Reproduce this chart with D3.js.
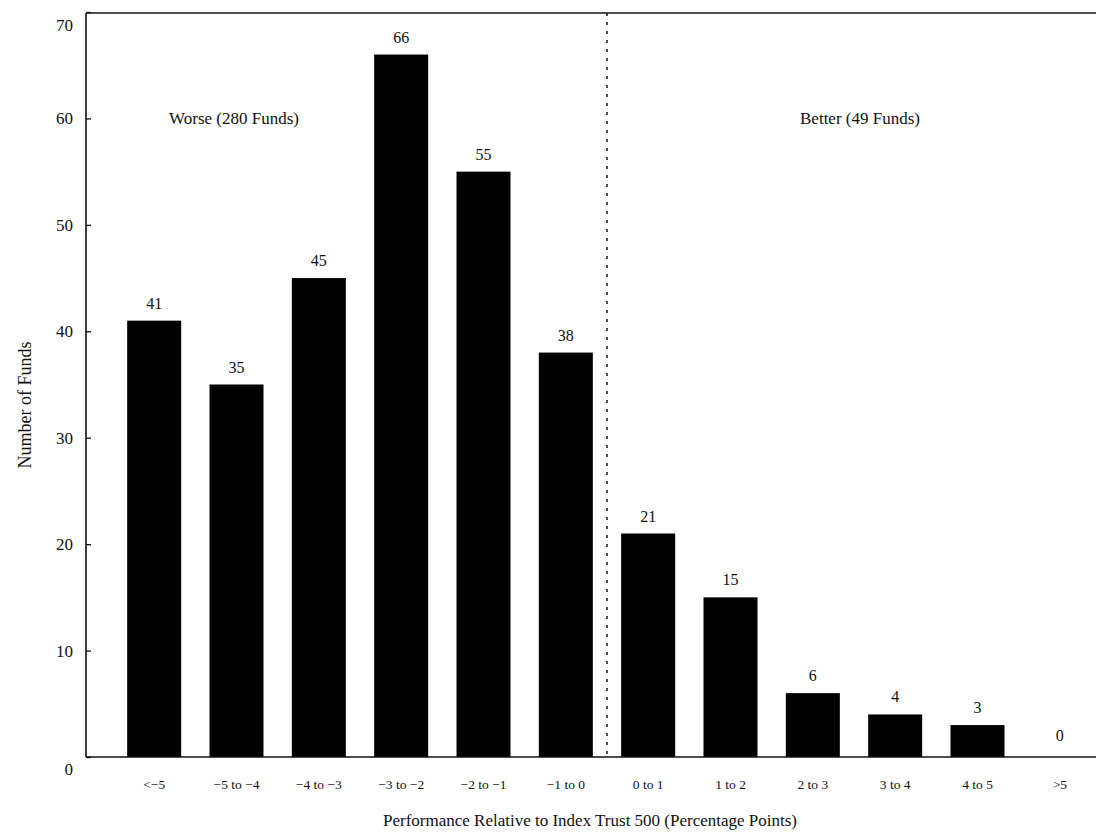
<!DOCTYPE html>
<html>
<head>
<meta charset="utf-8">
<script src="https://cdn.jsdelivr.net/npm/d3@7"></script>
<style>
  body { margin: 0; background: #fff; }
  svg { display: block; }
  text { font-family: "Liberation Serif", "DejaVu Serif", serif; fill: #111; }
</style>
</head>
<body>
<svg id="chart" width="1096" height="836"></svg>
<script>
const categories = ["<\u22125", "\u22125 to \u22124", "\u22124 to \u22123", "\u22123 to \u22122", "\u22122 to \u22121", "\u22121 to 0",
                    "0 to 1", "1 to 2", "2 to 3", "3 to 4", "4 to 5", ">5"];
const funds = [41, 35, 45, 66, 55, 38, 21, 15, 6, 4, 3, 0];
const yTicks = [0, 10, 20, 30, 40, 50, 60, 70];
const groupLabels = ["Worse (280 Funds)", "Better (49 Funds)"];
const yTitle = "Number of Funds";
const xTitle = "Performance Relative to Index Trust 500 (Percentage Points)";

(function () {
const svg = d3.select("#chart");
const mLeft = 86, mBottom = 757, mTop = 12, mRight = 1096;

const x = d3.scaleBand().domain(categories).range([113, 1101]).paddingInner(0.344).paddingOuter(0.172);
const y = d3.scaleLinear().domain([0, 70]).range([mBottom, mTop]);

// Bars
svg.append("g").selectAll("rect").data(funds).join("rect")
  .attr("x", (d, i) => x(categories[i]))
  .attr("width", x.bandwidth())
  .attr("y", d => y(d))
  .attr("height", d => mBottom - y(d))
  .attr("fill", "#000");

// Value labels
svg.append("g").selectAll("text").data(funds).join("text")
  .attr("x", (d, i) => x(categories[i]) + x.bandwidth() / 2)
  .attr("y", d => y(d) - (d === 0 ? 16 : 12))
  .attr("text-anchor", "middle")
  .attr("font-size", 16)
  .text(d => d);

// Y axis
const yAxis = d3.axisLeft(y).tickValues(yTicks).tickSize(-5).tickPadding(13).tickFormat(d3.format("d"));
const gy = svg.append("g").attr("transform", `translate(${mLeft},0)`).call(yAxis);
gy.select(".domain").remove();
gy.selectAll(".tick line").attr("stroke", "#111").attr("stroke-width", 1.3);
gy.selectAll(".tick text")
  .attr("font-size", 17)
  .attr("font-family", "Liberation Serif, DejaVu Serif, serif")
  .attr("fill", "#111")
  .attr("dy", d => d === 70 ? "1.1em" : d === 0 ? "1em" : "0.32em");

// X axis
const xAxis = d3.axisBottom(x).tickSize(0).tickPadding(22);
const gx = svg.append("g").attr("transform", `translate(0,${mBottom})`).call(xAxis);
gx.select(".domain").remove();
gx.selectAll(".tick text")
  .attr("font-size", 13.5)
  .attr("font-family", "Liberation Serif, DejaVu Serif, serif")
  .attr("fill", "#111");

// Frame lines
svg.append("line").attr("x1", mLeft).attr("x2", mLeft).attr("y1", 13).attr("y2", mBottom)
  .attr("stroke", "#111").attr("stroke-width", 1.6);
svg.append("line").attr("x1", mLeft).attr("x2", mRight).attr("y1", mBottom).attr("y2", mBottom)
  .attr("stroke", "#111").attr("stroke-width", 1.6);
svg.append("line").attr("x1", mLeft).attr("x2", mRight).attr("y1", 13).attr("y2", 13)
  .attr("stroke", "#111").attr("stroke-width", 1.4);

// Divider
const divX = (x(categories[5]) + x.bandwidth() + x(categories[6])) / 2;
svg.append("line").attr("x1", divX).attr("x2", divX).attr("y1", 13).attr("y2", mBottom)
  .attr("stroke", "#111").attr("stroke-width", 1.5).attr("stroke-dasharray", "3,6");

// Group labels
svg.append("text").attr("x", 234).attr("y", 124).attr("text-anchor", "middle")
  .attr("font-size", 17).text(groupLabels[0]);
svg.append("text").attr("x", 860).attr("y", 124).attr("text-anchor", "middle")
  .attr("font-size", 17).text(groupLabels[1]);

// Axis titles
svg.append("text").attr("transform", "translate(31,405) rotate(-90)")
  .attr("text-anchor", "middle").attr("font-size", 18).text(yTitle);
svg.append("text").attr("x", 590).attr("y", 826).attr("text-anchor", "middle")
  .attr("font-size", 17).text(xTitle);
})();
</script>
</body>
</html>
